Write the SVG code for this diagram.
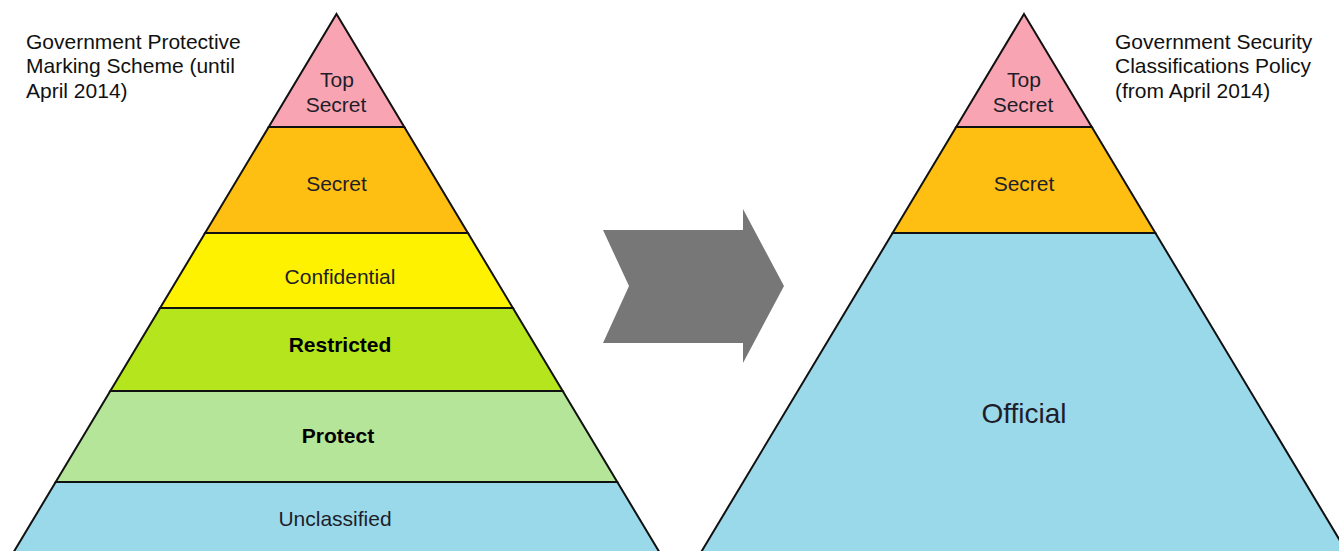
<svg xmlns="http://www.w3.org/2000/svg" width="1339" height="551" viewBox="0 0 1339 551">
<style>
.band{stroke:#111;stroke-width:2;stroke-linejoin:miter}
.lbl{font-family:"Liberation Sans",Arial,sans-serif;font-size:21px;fill:#1e1e2a;text-anchor:middle}
.b{font-weight:bold;fill:#000}
.title{font-family:"Liberation Sans",Arial,sans-serif;font-size:21px;fill:#111}
</style>
<rect width="1339" height="551" fill="#fff"/>
<g id="left-pyramid">
<g id="l-unclassified"><polygon class="band" fill="#9AD9EA" points="55.7,482 617.3,482 664.1,560 8.9,560"/><text class="lbl" x="335" y="526">Unclassified</text></g>
<g id="l-protect"><polygon class="band" fill="#B5E598" points="110.3,391 562.7,391 617.3,482 55.7,482"/><text class="lbl b" x="338" y="443">Protect</text></g>
<g id="l-restricted"><polygon class="band" fill="#B5E61D" points="160.1,308 512.9,308 562.7,391 110.3,391"/><text class="lbl b" x="340" y="352">Restricted</text></g>
<g id="l-confidential"><polygon class="band" fill="#FFF200" points="205.1,233 467.9,233 512.9,308 160.1,308"/><text class="lbl" x="340" y="284">Confidential</text></g>
<g id="l-secret"><polygon class="band" fill="#FEBF12" points="268.7,127 404.3,127 467.9,233 205.1,233"/><text class="lbl" x="336.5" y="191">Secret</text></g>
<g id="l-topsecret"><polygon class="band" fill="#F9A4B2" points="336.5,14 404.3,127 268.7,127"/><text class="lbl" x="337" y="87">Top</text><text class="lbl" x="336" y="112">Secret</text></g>
</g>
<g id="right-pyramid">
<g id="r-official"><polygon class="band" fill="#9AD9EA" points="892.6,233 1155.4,233 1351.6,560 696.4,560"/><text class="lbl" x="1024" y="423" style="font-size:28px">Official</text></g>
<g id="r-secret"><polygon class="band" fill="#FEBF12" points="956.2,127 1091.8,127 1155.4,233 892.6,233"/><text class="lbl" x="1024" y="191">Secret</text></g>
<g id="r-topsecret"><polygon class="band" fill="#F9A4B2" points="1024,14 1091.8,127 956.2,127"/><text class="lbl" x="1024" y="87">Top</text><text class="lbl" x="1023" y="112">Secret</text></g>
</g>
<g id="connectors">
<polygon fill="#777777" points="603,230 743,230 743,209 784,286 743,363 743,343 603,343 629,286"/>
</g>
<g id="title-left"><text class="title" x="26" y="49">Government Protective</text><text class="title" x="26" y="73">Marking Scheme (until</text><text class="title" x="26" y="98">April 2014)</text></g>
<g id="title-right"><text class="title" x="1115" y="49">Government Security</text><text class="title" x="1115" y="73">Classifications Policy</text><text class="title" x="1115" y="98">(from April 2014)</text></g>
</svg>
